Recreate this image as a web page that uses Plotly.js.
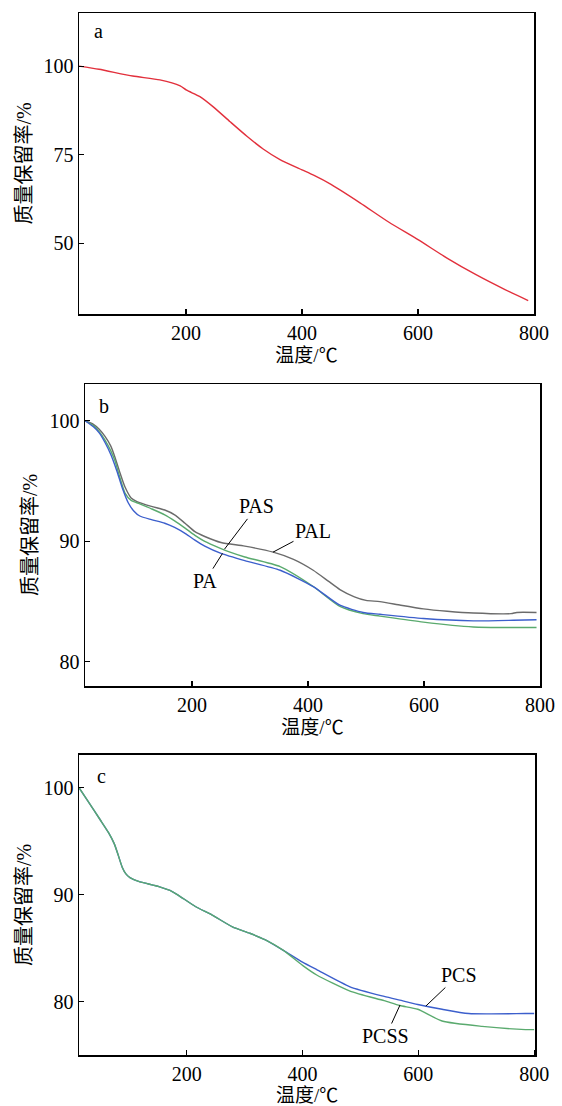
<!DOCTYPE html>
<html>
<head>
<meta charset="utf-8">
<script src="https://cdn.plot.ly/plotly-3.0.1.min.js"></script>
<style>html,body{margin:0;padding:0;background:#fff;}#chart{width:562px;height:1106px;}</style>
</head>
<body>
<div id="chart"></div>
<script>
// Panel a
const T_a = [15.5, 50, 108, 155, 190, 201, 224, 247, 276, 305, 333, 362, 400, 420, 450, 500, 550, 600, 650, 700, 750, 790];
const M_a = [100.0, 99.1, 97.2, 96.1, 94.4, 93.2, 91.4, 88.5, 84.3, 80.2, 76.6, 73.6, 70.7, 69.2, 66.6, 61.4, 55.9, 51.0, 45.8, 41.1, 36.9, 33.8];

// Panel b
const T_PAL = [15.5, 30, 40, 50, 60, 67, 75, 84.5, 95, 105, 130, 153, 170, 188, 205, 222, 250, 291, 340, 375, 409, 435, 455, 480, 500, 524, 560, 599, 640, 685, 750, 760, 794];
const M_PAL = [100, 99.7, 99.3, 98.7, 97.9, 97.0, 95.8, 94.5, 93.6, 93.3, 92.9, 92.6, 92.2, 91.5, 90.8, 90.4, 89.9, 89.6, 89.1, 88.5, 87.6, 86.7, 86.0, 85.4, 85.1, 85.0, 84.7, 84.4, 84.2, 84.05, 84.0, 84.1, 84.1];
const T_PA = [15.5, 30, 40, 50, 60, 70, 80, 90, 100, 110, 130, 153, 170, 190, 205, 222, 250, 291, 352, 409, 455, 495, 524, 599, 685, 754, 794];
const M_PA = [100, 99.5, 99.0, 98.2, 97.2, 95.9, 94.4, 93.2, 92.5, 92.1, 91.8, 91.5, 91.15, 90.6, 90.1, 89.6, 89.0, 88.4, 87.6, 86.25, 84.7, 84.1, 83.95, 83.6, 83.4, 83.45, 83.5];
const T_PAS = [15.5, 30, 40, 50, 60, 67, 75, 84.5, 95, 105, 130, 153, 170, 188, 205, 222, 250, 265.5, 291, 352, 409, 455, 495, 524, 599, 685, 754, 794];
const M_PAS = [100, 99.6, 99.1, 98.4, 97.5, 96.7, 95.4, 94.0, 93.4, 93.2, 92.7, 92.2, 91.7, 91.1, 90.5, 90.0, 89.4, 89.1, 88.7, 87.9, 86.25, 84.6, 84.0, 83.8, 83.3, 82.9, 82.85, 82.85];

// Panel c
const T_PCS = [14, 30, 50, 65, 75, 82, 88.8, 95, 102, 117, 152, 175, 187, 215, 244, 279, 309, 335, 367, 400, 424.5, 482, 541, 568, 599, 641, 687, 785, 800];
const M_PCS = [100, 98.7, 97.05, 95.8, 94.75, 93.65, 92.55, 91.95, 91.6, 91.25, 90.75, 90.3, 89.9, 88.9, 88.1, 87.0, 86.4, 85.8, 84.8, 83.7, 83.0, 81.4, 80.5, 80.15, 79.75, 79.3, 78.9, 78.9, 78.9];
const T_PCSS = [14, 30, 50, 65, 75, 82, 88.8, 95, 102, 117, 152, 175, 187, 215, 244, 279, 309, 335, 367, 400, 424.5, 482, 541, 568, 599, 641, 710, 785, 800];
const M_PCSS = [100, 98.7, 97.05, 95.8, 94.75, 93.65, 92.55, 91.95, 91.6, 91.25, 90.75, 90.3, 89.9, 88.9, 88.1, 87.0, 86.4, 85.8, 84.8, 83.4, 82.5, 81.0, 80.1, 79.65, 79.3, 78.2, 77.7, 77.4, 77.4];

const xTicks = [200, 400, 600, 800];
const yTicks_a = [50, 75, 100];
const yTicks_b = [80, 90, 100];
const yTicks_c = [80, 90, 100];

const xTitle = '温度/℃';
const yTitle = '质量保留率/%';

const FONT = "'Liberation Serif', 'Times New Roman', 'Noto Sans CJK SC', serif";
const lw = 1.4;

const traces = [
  {x: T_a, y: M_a, xaxis: 'x', yaxis: 'y', name: 'a', line: {color: '#e2303c', width: lw, shape: 'spline', smoothing: 0.6}},
  {x: T_PAL, y: M_PAL, xaxis: 'x2', yaxis: 'y2', name: 'PAL', line: {color: '#6b6b6b', width: lw, shape: 'spline', smoothing: 0.6}},
  {x: T_PAS, y: M_PAS, xaxis: 'x2', yaxis: 'y2', name: 'PAS', line: {color: '#5aaa6e', width: lw, shape: 'spline', smoothing: 0.6}},
  {x: T_PA, y: M_PA, xaxis: 'x2', yaxis: 'y2', name: 'PA', line: {color: '#3c5fcc', width: lw, shape: 'spline', smoothing: 0.6}},
  {x: T_PCS, y: M_PCS, xaxis: 'x3', yaxis: 'y3', name: 'PCS', line: {color: '#3c5fcc', width: lw, shape: 'spline', smoothing: 0.6}},
  {x: T_PCSS, y: M_PCSS, xaxis: 'x3', yaxis: 'y3', name: 'PCSS', line: {color: '#5aaa6e', width: lw, shape: 'spline', smoothing: 0.6}}
].map(t => Object.assign({type: 'scatter', mode: 'lines', hoverinfo: 'skip'}, t));

function xAxis(domain, range, anchor) {
  return {
    domain: domain, range: range, anchor: anchor,
    tickmode: 'array', tickvals: xTicks, ticktext: xTicks.map(String),
    ticks: 'inside', ticklen: 5, tickwidth: 1.2, tickcolor: '#000',
    showline: true, linecolor: '#000', linewidth: 1.5, mirror: true,
    showgrid: false, zeroline: false, automargin: false,
    tickfont: {family: FONT, size: 20, color: '#000'},
    title: {text: xTitle, font: {family: FONT, size: 19, color: '#000'}, standoff: 6}
  };
}
function yAxis(domain, range, anchor, ticks) {
  return {
    domain: domain, range: range, anchor: anchor,
    tickmode: 'array', tickvals: ticks, ticktext: ticks.map(String),
    ticks: 'inside', ticklen: 5, tickwidth: 1.2, tickcolor: '#000',
    showline: true, linecolor: '#000', linewidth: 1.5, mirror: true,
    showgrid: false, zeroline: false, automargin: false,
    tickfont: {family: FONT, size: 20, color: '#000'},
    title: {text: yTitle, font: {family: FONT, size: 20, color: '#000'}, standoff: 6}
  };
}

const ann = (xr, yr, text, x, y, ax, ay, arrow) => {
  const a = {
    xref: xr, yref: yr, x: x, y: y, text: text, showarrow: !!arrow,
    font: {family: FONT, size: 20, color: '#000'}
  };
  if (arrow) Object.assign(a, {ax: ax, ay: ay, axref: xr, ayref: yr, arrowhead: 0, arrowwidth: 1, arrowcolor: '#000', standoff: 0});
  return a;
};

const annotations = [
  ann('x', 'y', 'a', 48.3, 109.9),
  ann('x2', 'y2', 'b', 48.3, 101.2),
  ann('x3', 'y3', 'c', 52, 101.1),
  ann('x2', 'y2', 'PAS', 256, 89.35, 312, 92.9, true),
  ann('x2', 'y2', 'PA', 252.6, 89.0, 222.4, 86.7, true),
  ann('x2', 'y2', 'PAL', 339.6, 89.1, 408.6, 90.86, true),
  ann('x3', 'y3', 'PCS', 613, 79.6, 669.4, 82.5, true),
  ann('x3', 'y3', 'PCSS', 568.4, 79.7, 544, 76.8, true)
];

const W = 562, H = 1106;
const layout = {
  width: W, height: H,
  margin: {l: 0, r: 0, t: 0, b: 0},
  paper_bgcolor: '#fff', plot_bgcolor: '#fff',
  showlegend: false,
  font: {family: FONT, size: 20, color: '#000'},
  xaxis: xAxis([79 / W, 534 / W], [15.5, 800], 'y'),
  yaxis: yAxis([1 - 314 / H, 1 - 13 / H], [30, 115], 'x', yTicks_a),
  xaxis2: xAxis([85 / W, 540 / W], [15.5, 800], 'y2'),
  yaxis2: yAxis([1 - 686 / H, 1 - 384 / H], [78, 103.05], 'x2', yTicks_b),
  xaxis3: xAxis([79 / W, 535.3 / W], [14, 802], 'y3'),
  yaxis3: yAxis([1 - 1055.3 / H, 1 - 754.7 / H], [75, 103.08], 'x3', yTicks_c),
  annotations: annotations
};

Plotly.newPlot('chart', traces, layout, {staticPlot: true, displayModeBar: false});
</script>
</body>
</html>
